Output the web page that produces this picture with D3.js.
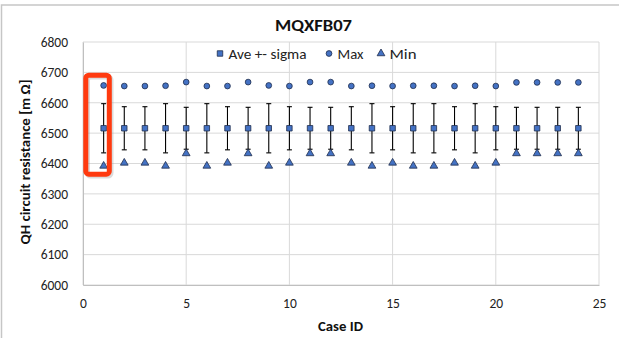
<!DOCTYPE html>
<html>
<head>
<meta charset="utf-8">
<script src="https://cdn.jsdelivr.net/npm/d3@7"></script>
<style>
  html, body { margin: 0; padding: 0; background: #fff; }
  svg { display: block; font-family: Carlito, Lato, "Open Sans", sans-serif; }
</style>
</head>
<body>
<svg id="chart" width="619" height="338"></svg>
<script>
// values
const caseIds = [1,2,3,4,5,6,7,8,9,10,11,12,13,14,15,16,17,18,19,20,21,22,23,24];
const aveVals = [6516,6516,6516,6516,6516,6516,6516,6516,6516,6516,6516,6516,
                 6516,6516,6516,6516,6516,6516,6516,6516,6516,6516,6516,6516];
const sigmaVals = [81,71,71,81,69,81,71,69,81,71,69,69,
                   71,81,71,81,81,71,81,71,69,69,69,69];
const maxVals = [6657,6655,6655,6656,6668,6655,6655,6668,6657,6655,6668,6668,
                 6655,6656,6655,6656,6656,6655,6656,6655,6667,6667,6667,6667];
const minVals = [6392,6402,6402,6392,6433,6392,6402,6433,6392,6402,6433,6433,
                 6402,6392,6402,6392,6392,6402,6392,6402,6433,6433,6433,6433];
const xTicks = [0,5,10,15,20,25];
const yTicks = [6000,6100,6200,6300,6400,6500,6600,6700,6800];
const legendItems = ["Ave +- sigma", "Max", "Min"];

const svg = d3.select("#chart");
const W = 619, H = 338;
const plot = {left: 83, right: 599, top: 42, bottom: 285};

const x = d3.scaleLinear().domain([0, 25]).range([plot.left, plot.right]);
const y = d3.scaleLinear().domain([6000, 6800]).range([plot.bottom, plot.top]);

const blue = "#4472C4";
const edge = "#1f2d4d";

// chart frame
svg.append("rect").attr("x", 1.5).attr("y", 5).attr("width", W + 10).attr("height", H + 10)
  .attr("fill", "#fff").attr("stroke", "#c6c6c6").attr("stroke-width", 1.5);

// grid
const grid = svg.append("g");
grid.selectAll(".hg").data(yTicks).join("line")
  .attr("x1", plot.left).attr("x2", plot.right)
  .attr("y1", d => y(d)).attr("y2", d => y(d))
  .attr("stroke", "#d9d9d9").attr("stroke-width", 1);
grid.selectAll(".vg").data(xTicks).join("line")
  .attr("x1", d => x(d)).attr("x2", d => x(d))
  .attr("y1", plot.top).attr("y2", plot.bottom)
  .attr("stroke", "#d9d9d9").attr("stroke-width", 1);

// axes (labels only, lines come from the grid)
const yAxis = svg.append("g").attr("transform", `translate(${plot.left},0)`)
  .call(d3.axisLeft(y).tickValues(yTicks).tickFormat(d3.format("d")).tickSize(0).tickPadding(15));
const xAxis = svg.append("g").attr("transform", `translate(0,${plot.bottom})`)
  .call(d3.axisBottom(x).tickValues(xTicks).tickFormat(d3.format("d")).tickSize(0).tickPadding(13));
[yAxis, xAxis].forEach(a => {
  a.select(".domain").attr("stroke", "#bfbfbf");
  a.selectAll("text").attr("font-size", 13.5).attr("fill", "#222")
    .attr("font-family", "Carlito, Lato, sans-serif");
});

// title and axis titles
svg.append("text").attr("x", 313.5).attr("y", 31).attr("text-anchor", "middle")
  .attr("font-size", 16.5).attr("font-weight", "bold").attr("fill", "#111")
  .attr("textLength", 77).attr("lengthAdjust", "spacingAndGlyphs").text("MQXFB07");
svg.append("text").attr("x", 340.5).attr("y", 331).attr("text-anchor", "middle")
  .attr("font-size", 14).attr("font-weight", "bold").attr("fill", "#111")
  .attr("textLength", 45).attr("lengthAdjust", "spacingAndGlyphs").text("Case ID");
svg.append("text").attr("transform", "translate(30,162) rotate(-90)")
  .attr("text-anchor", "middle").attr("font-size", 14).attr("font-weight", "bold")
  .attr("fill", "#111").attr("textLength", 165).attr("lengthAdjust", "spacingAndGlyphs")
  .text("QH circuit resistance [m Ω]");

const rows = caseIds.map((c, i) => ({
  id: c, ave: aveVals[i], sd: sigmaVals[i], max: maxVals[i], min: minVals[i]
}));

// error bars
const eb = svg.append("g").attr("stroke", "#000").attr("stroke-width", 1.1);
eb.selectAll(".stem").data(rows).join("line")
  .attr("x1", d => x(d.id)).attr("x2", d => x(d.id))
  .attr("y1", d => y(d.ave + d.sd)).attr("y2", d => y(d.ave - d.sd));
eb.selectAll(".capT").data(rows).join("line")
  .attr("x1", d => x(d.id) - 2.5).attr("x2", d => x(d.id) + 2.5)
  .attr("y1", d => y(d.ave + d.sd)).attr("y2", d => y(d.ave + d.sd));
eb.selectAll(".capB").data(rows).join("line")
  .attr("x1", d => x(d.id) - 2.5).attr("x2", d => x(d.id) + 2.5)
  .attr("y1", d => y(d.ave - d.sd)).attr("y2", d => y(d.ave - d.sd));

const sqSym = d3.symbol().type(d3.symbolSquare).size(30);
const ciSym = d3.symbol().type(d3.symbolCircle).size(26);
const trSym = d3.symbol().type(d3.symbolTriangle).size(26);

function markers(key, sym) {
  svg.append("g").selectAll("path").data(rows).join("path")
    .attr("d", sym)
    .attr("transform", d => `translate(${x(d.id)},${y(d[key])})`)
    .attr("fill", blue).attr("stroke", edge).attr("stroke-width", 0.8);
}
markers("ave", sqSym);
markers("max", ciSym);
markers("min", trSym);

// legend
const legendPos = [220, 329, 381];
const legendLen = [78, 26, 27];
const legendSyms = [sqSym, ciSym, trSym];
const lg = svg.append("g");
legendItems.forEach((name, i) => {
  lg.append("path").attr("d", legendSyms[i])
    .attr("transform", `translate(${legendPos[i]},53.5)`)
    .attr("fill", blue).attr("stroke", edge).attr("stroke-width", 0.8);
  lg.append("text").attr("x", legendPos[i] + 8.5).attr("y", 58.5)
    .attr("font-size", 14.5).attr("fill", "#222")
    .attr("textLength", legendLen[i]).attr("lengthAdjust", "spacingAndGlyphs").text(name);
});

// red highlight box around case 1
const hl = svg.append("g");
hl.append("rect").attr("x", 87.5).attr("y", 77).attr("width", 23.5).attr("height", 99)
  .attr("rx", 3).attr("fill", "none").attr("stroke", "#999").attr("stroke-opacity", 0.35)
  .attr("stroke-width", 5);
hl.append("rect").attr("x", 85.8).attr("y", 75.2).attr("width", 23.5).attr("height", 99)
  .attr("rx", 3).attr("fill", "none").attr("stroke", "#FF3A0F").attr("stroke-width", 5);
</script>
</body>
</html>
